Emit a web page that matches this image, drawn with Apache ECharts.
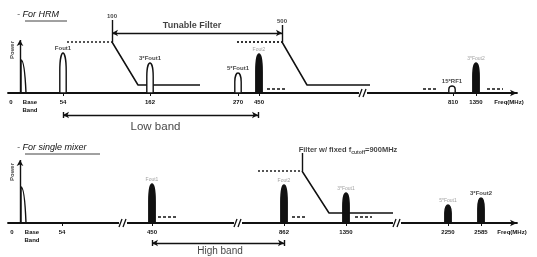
<!DOCTYPE html>
<html>
<head>
<meta charset="utf-8">
<title>HRM vs single mixer spectrum</title>
<script src="https://cdn.jsdelivr.net/npm/echarts@6.0.0/dist/echarts.min.js"></script>
<style>
html, body { margin: 0; padding: 0; background: #fff; }
#chart { width: 537px; height: 257px; }
</style>
</head>
<body>
<div id="chart"></div>
<script>
// schematic frequency positions (axis is not to scale), power in arbitrary units

// --- top panel: HRM
var topTickPos = [-9, 10, 43, 130, 218, 239, 433, 456, 489];
var topTickText = ['0', 'Base\nBand', '54', '162', '270', '450', '810', '1350', 'Freq(MHz)'];
var topPeakPos = [1, 43, 130, 218, 239, 432, 456];
var topPeakPower = [33, 40, 30, 20, 39, 7, 30];
var topPeakKind = [2, 0, 0, 0, 1, 0, 1];      // 0 hollow, 1 filled, 2 base band
var topPeakName = ['', 'Fout1', '3*Fout1', '5*Fout1', 'Fout2', '15*RF1', '3*Fout2'];
var topPeakFaint = [0, 0, 0, 0, 1, 0, 1];
var tunableCut = [92, 262];
var tunableCutText = ['100', '500'];
var lowCutPassX = [47, 92];
var lowCutStopX = [92, 118, 180];
var highCutPassX = [217, 262];
var highCutStopX = [262, 287, 350];
var tunablePassY = [51, 51];
var tunableStopY = [51, 8, 8];
var topDashFrom = [247, 403, 467];
var topDashTo = [265, 417, 483];
var topBreaks = [343];
var lowBand = [43, 238];

// --- bottom panel: single mixer
var botTickPos = [-8, 12, 42, 132, 264, 326, 428, 461, 492];
var botTickText = ['0', 'Base\nBand', '54', '450', '862', '1350', '2250', '2585', 'Freq(MHz)'];
var botPeakPos = [1, 132, 264, 326, 428, 461];
var botPeakPower = [36, 39, 38, 30, 18, 25];
var botPeakKind = [2, 1, 1, 1, 1, 1];
var botPeakName = ['', 'Fout1', 'Fout2', '3*Fout1', '5*Fout1', '3*Fout2'];
var botPeakFaint = [0, 1, 1, 1, 1, 0];
var fixedCut = 282;
var fixedPassX = [238, 282];
var fixedStopX = [282, 309, 373];
var fixedPassY = [52, 52];
var fixedStopY = [52, 10, 10];
var botDashFrom = [138, 272, 335];
var botDashTo = [157, 287, 352];
var botBreaks = [103, 218, 377];
var highBand = [132, 264];

var FONT = '"Liberation Sans", Arial, sans-serif';
var INK = '#111';
var TOP_MIN = -40, BOT_MIN = -34;

function peakPath(cx, by, ty, kind) {
    var h = by - ty;
    if (kind === 2) {
        return 'M' + cx + ' ' + by + 'L' + cx + ' ' + ty +
            'C' + (cx + 2) + ' ' + ty + ' ' + (cx + 4) + ' ' + (ty + h * 0.3) + ' ' + (cx + 5) + ' ' + by;
    }
    var w = 3.2;
    return 'M' + (cx - w) + ' ' + by +
        'L' + (cx - w) + ' ' + (ty + h * 0.45) +
        'C' + (cx - w) + ' ' + (ty + h * 0.1) + ' ' + (cx - 1) + ' ' + ty + ' ' + cx + ' ' + ty +
        'C' + (cx + 1) + ' ' + ty + ' ' + (cx + w) + ' ' + (ty + h * 0.1) + ' ' + (cx + w) + ' ' + (ty + h * 0.45) +
        'L' + (cx + w) + ' ' + by + 'Z';
}

function renderPeak(params, api) {
    var base = api.coord([api.value(0), 0]);
    var top = api.coord([api.value(0), api.value(1)]);
    var kind = api.value(2);
    return {
        type: 'path',
        shape: { pathData: peakPath(base[0], base[1], top[1], kind) },
        style: { fill: kind === 1 ? INK : (kind === 0 ? '#fff' : 'none'), stroke: INK, lineWidth: 1.4 }
    };
}

function renderBreak(params, api) {
    var p = api.coord([api.value(0), 0]);
    return {
        type: 'group',
        children: [
            { type: 'rect', shape: { x: p[0] - 4, y: p[1] - 2, width: 8, height: 4 }, style: { fill: '#fff' } },
            { type: 'line', shape: { x1: p[0] - 4, y1: p[1] + 4, x2: p[0] - 1, y2: p[1] - 4 }, style: { stroke: INK, lineWidth: 1.3 } },
            { type: 'line', shape: { x1: p[0], y1: p[1] + 4, x2: p[0] + 3, y2: p[1] - 4 }, style: { stroke: INK, lineWidth: 1.3 } }
        ]
    };
}

function zip(xs, ys) {
    return xs.map(function (x, i) { return [x, ys[i]]; });
}

function lineSeries(g, pts, style) {
    return {
        type: 'line', xAxisIndex: g, yAxisIndex: g, data: pts, symbol: 'none',
        lineStyle: style, silent: true, z: 3
    };
}

function seg(x1, y1, x2, y2, s1, s2) {
    return [{ coord: [x1, y1], symbol: s1 || 'none' }, { coord: [x2, y2], symbol: s2 || 'none' }];
}

function peakSeries(g, pos, power, kind) {
    return {
        type: 'custom', xAxisIndex: g, yAxisIndex: g, renderItem: renderPeak, z: 4,
        data: pos.map(function (x, i) { return [x, power[i], kind[i]]; })
    };
}

function peakLabels(g, pos, power, names, faint) {
    var data = [];
    pos.forEach(function (x, i) {
        if (!names[i]) return;
        data.push({
            value: [x, power[i]], name: names[i],
            label: faint[i] ? { color: '#8a8a8a', fontSize: 5, fontWeight: 'normal' } : {}
        });
    });
    return {
        type: 'scatter', xAxisIndex: g, yAxisIndex: g, symbolSize: 0, silent: true, z: 5,
        label: { show: true, position: 'top', distance: 2, formatter: '{b}', fontFamily: FONT, fontSize: 6, fontWeight: 'bold', color: INK },
        data: data
    };
}

function noteSeries(g, items) {
    return {
        type: 'scatter', xAxisIndex: g, yAxisIndex: g, symbolSize: 0, silent: true, z: 5,
        label: { show: true, position: 'inside', formatter: '{b}', fontFamily: FONT, color: INK },
        data: items
    };
}

function dashSeries(g, from, to, level) {
    return from.map(function (x, i) {
        return lineSeries(g, [[x, level], [to[i], level]], { color: INK, width: 1.3, type: [3, 2] });
    });
}

function breakSeries(g, pos) {
    return {
        type: 'custom', xAxisIndex: g, yAxisIndex: g, renderItem: renderBreak, z: 6,
        data: pos.map(function (x) { return [x, 0]; })
    };
}

function arrowSeries(g, segs) {
    return {
        type: 'line', xAxisIndex: g, yAxisIndex: g, data: [], silent: true,
        markLine: {
            silent: true, animation: false, symbolSize: [5, 6],
            label: { show: false },
            lineStyle: { color: INK, width: 1.4, type: 'solid' },
            data: segs
        }
    };
}

// the x axis sits at power 0: its offset from the grid bottom equals the (pixel-sized) negative range
function makeXAxis(g, tickPos, tickText, yMin) {
    return {
        type: 'value', gridIndex: g, min: -12, max: 497, offset: yMin,
        splitLine: { show: false },
        axisLine: { onZero: false, symbol: ['none', 'arrow'], symbolSize: [5, 7], lineStyle: { color: INK, width: 1.8 } },
        axisTick: { customValues: tickPos.slice(2, -1), length: 3, lineStyle: { color: INK, width: 1 } },
        axisLabel: {
            customValues: tickPos, margin: 5, fontFamily: FONT, fontSize: 6, fontWeight: 'bold', color: INK, lineHeight: 8,
            formatter: function (v) {
                var i = tickPos.indexOf(v);
                return i < 0 ? '' : tickText[i];
            }
        }
    };
}

var chart = echarts.init(document.getElementById('chart'));

var boldHead = { fontSize: 9, fontWeight: 'bold' };
var smallMark = { fontSize: 6, fontWeight: 'bold', position: 'top', distance: 1 };
var powerLabel = { fontSize: 6, fontWeight: 'bold', rotate: 90 };

var series = [];

// top panel
series.push(arrowSeries(0, [
    seg(0, 0, 0, 53, 'none', 'arrow'),
    seg(tunableCut[0], 51, tunableCut[0], 73),
    seg(tunableCut[1], 51, tunableCut[1], 68),
    seg(tunableCut[0], 60, tunableCut[1], 60, 'arrow', 'arrow'),
    seg(lowBand[0], -22, lowBand[1], -22, 'arrow', 'arrow'),
    seg(lowBand[0], -25, lowBand[0], -19),
    seg(lowBand[1], -25, lowBand[1], -19)
]));
series.push(lineSeries(0, zip(lowCutPassX, tunablePassY), { color: '#555', width: 2, type: 'dotted' }));
series.push(lineSeries(0, zip(lowCutStopX, tunableStopY), { color: INK, width: 1.5 }));
series.push(lineSeries(0, zip(highCutPassX, tunablePassY), { color: '#333', width: 2, type: 'dotted' }));
series.push(lineSeries(0, zip(highCutStopX, tunableStopY), { color: INK, width: 1.5 }));
series = series.concat(dashSeries(0, topDashFrom, topDashTo, 4));
series.push(breakSeries(0, topBreaks));
series.push(peakSeries(0, topPeakPos, topPeakPower, topPeakKind));
series.push(peakLabels(0, topPeakPos, topPeakPower, topPeakName, topPeakFaint));
series.push(noteSeries(0, [
    { name: 'Power', value: [-8, 43], label: powerLabel },
    { name: 'Tunable Filter', value: [(tunableCut[0] + tunableCut[1]) / 2 - 5, 67], label: boldHead },
    { name: tunableCutText[0], value: [tunableCut[0], 73], label: smallMark },
    { name: tunableCutText[1], value: [tunableCut[1], 68], label: smallMark },
    { name: 'Low band', value: [(lowBand[0] + lowBand[1]) / 2 - 5, -34], label: { fontSize: 11.5 } }
]));

// bottom panel
series.push(arrowSeries(1, [
    seg(0, 0, 0, 63, 'none', 'arrow'),
    seg(fixedCut, 52, fixedCut, 70),
    seg(highBand[0], -20, highBand[1], -20, 'arrow', 'arrow'),
    seg(highBand[0], -23, highBand[0], -17),
    seg(highBand[1], -23, highBand[1], -17)
]));
series.push(lineSeries(1, zip(fixedPassX, fixedPassY), { color: '#555', width: 2, type: 'dotted' }));
series.push(lineSeries(1, zip(fixedStopX, fixedStopY), { color: INK, width: 1.5 }));
series = series.concat(dashSeries(1, botDashFrom, botDashTo, 6));
series.push(breakSeries(1, botBreaks));
series.push(peakSeries(1, botPeakPos, botPeakPower, botPeakKind));
series.push(peakLabels(1, botPeakPos, botPeakPower, botPeakName, botPeakFaint));
series.push(noteSeries(1, [
    { name: 'Power', value: [-8, 51], label: powerLabel },
    {
        name: 'Filter w/ fixed f{sub|cutoff}=900MHz', value: [fixedCut + 46, 73],
        label: {
            fontSize: 7.5, fontWeight: 'bold', formatter: 'Filter w/ fixed f{sub|cutoff}=900MHz',
            rich: { sub: { fontSize: 5, fontWeight: 'bold', fontFamily: FONT, padding: [5, 0, 0, 0] } }
        }
    },
    { name: 'High band', value: [(highBand[0] + highBand[1]) / 2 + 2, -28], label: { fontSize: 10 } }
]));

chart.setOption({
    animation: false,
    grid: [
        { left: 8, right: 20, top: 13, bottom: 124 },
        { left: 8, right: 20, top: 143, bottom: 0 }
    ],
    xAxis: [makeXAxis(0, topTickPos, topTickText, TOP_MIN), makeXAxis(1, botTickPos, botTickText, BOT_MIN)],
    yAxis: [
        { type: 'value', gridIndex: 0, min: TOP_MIN, max: 80, show: false },
        { type: 'value', gridIndex: 1, min: BOT_MIN, max: 80, show: false }
    ],
    graphic: [
        { type: 'text', left: 17, top: 10, style: { text: '- For HRM', font: 'italic 9px ' + FONT, fill: INK } },
        { type: 'line', shape: { x1: 25, y1: 21, x2: 67, y2: 21 }, style: { stroke: INK, lineWidth: 0.8 } },
        { type: 'text', left: 17, top: 143, style: { text: '- For single mixer', font: 'italic 9px ' + FONT, fill: INK } },
        { type: 'line', shape: { x1: 25, y1: 154, x2: 100, y2: 154 }, style: { stroke: INK, lineWidth: 0.8 } }
    ],
    series: series
});
</script>
</body>
</html>
